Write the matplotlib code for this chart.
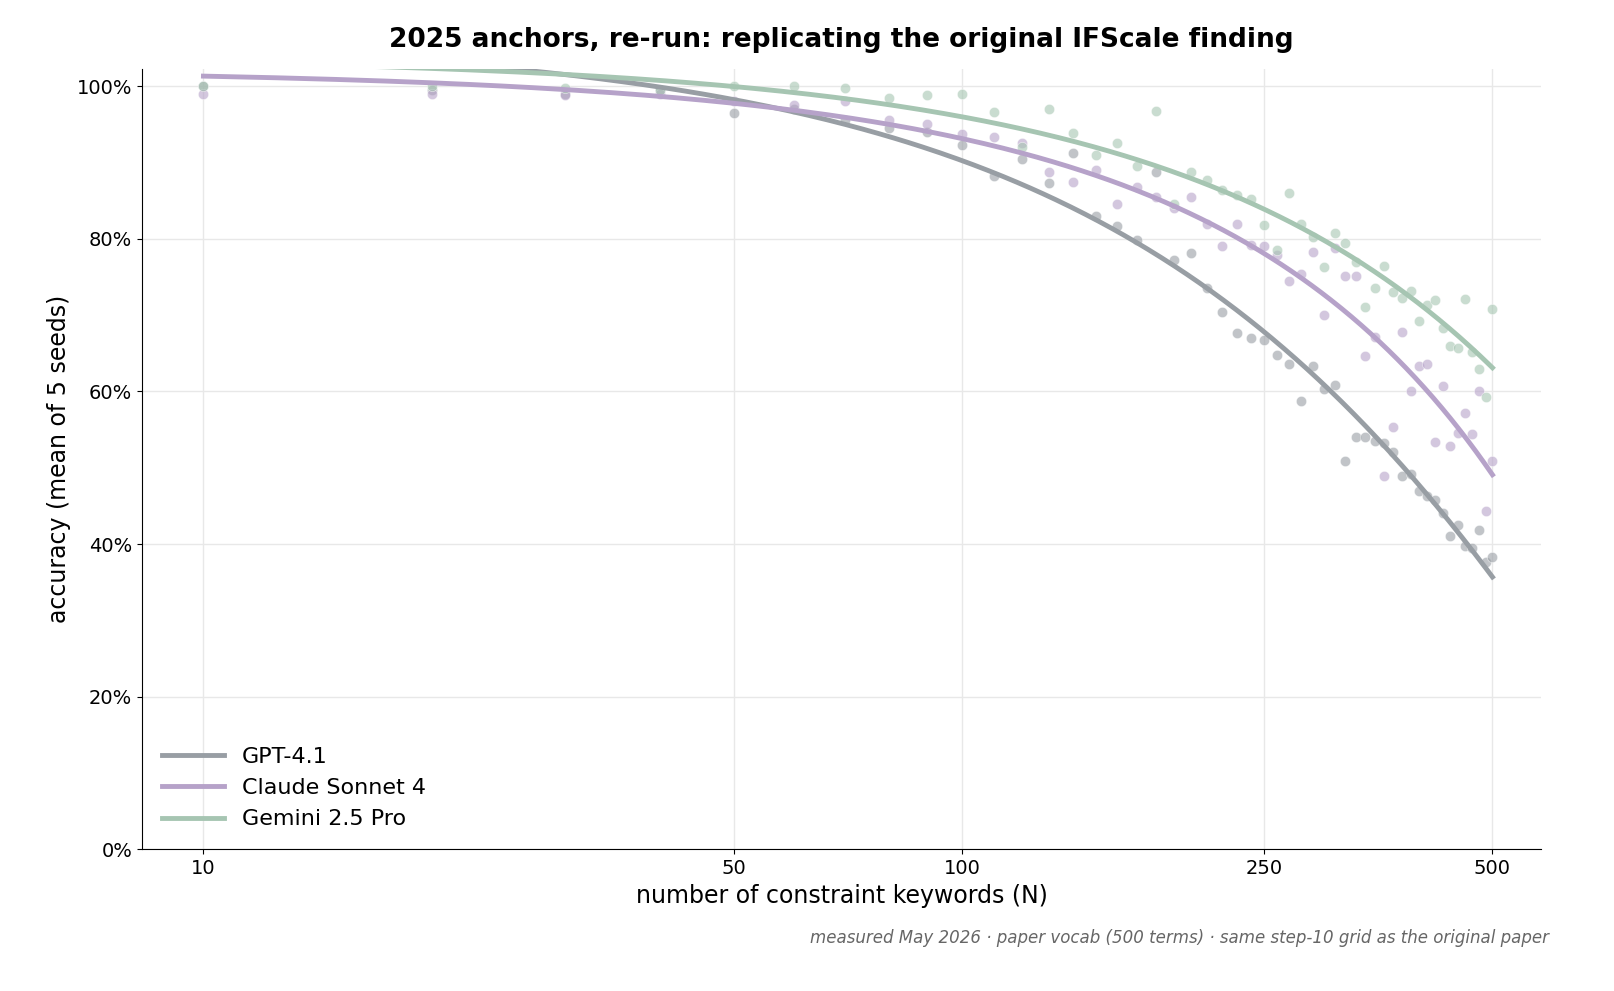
import numpy as np
import matplotlib.pyplot as plt
from matplotlib.ticker import PercentFormatter, FixedLocator, NullLocator

n_keywords = list(range(10, 501, 10))

gpt41 = [100, 99.5, 99, 99.5, 96.5, 97, 95.5, 94.5, 94, 92.3,
         88.2, 90.4, 87.3, 91.3, 83, 81.7, 79.8, 88.8, 77.2, 78.1,
         73.6, 70.4, 67.6, 67, 66.8, 64.8, 63.6, 58.7, 63.3, 60.3,
         60.8, 50.9, 54, 54, 53.5, 53.2, 52, 48.9, 49.2, 46.9,
         46.3, 45.8, 44.1, 41, 42.5, 39.7, 39.5, 41.8, 37.7, 38.3]
sonnet4 = [99, 99, 98.8, 99, 98, 97.5, 98, 95.5, 95, 93.7,
           93.3, 92.6, 88.8, 87.4, 89, 84.6, 86.8, 85.5, 84, 85.5,
           82, 79, 82, 79.2, 79, 77.9, 74.5, 75.4, 78.3, 70,
           78.8, 75.1, 75.1, 64.7, 67.1, 48.9, 55.3, 67.8, 60, 63.3,
           63.6, 53.4, 60.7, 52.9, 54.6, 57.2, 54.4, 60, 44.3, 50.9]
gemini25 = [100, 100, 99.8, 99.5, 100, 100, 99.7, 98.5, 98.8, 99,
            96.6, 92, 97, 93.8, 91, 92.6, 89.6, 96.7, 84.6, 88.8,
            87.7, 86.4, 85.7, 85.2, 81.8, 78.5, 86, 82, 80.2, 76.3,
            80.8, 79.4, 77, 71, 73.6, 76.4, 73, 72.2, 73.2, 69.2,
            71.3, 72, 68.3, 66, 65.7, 72.1, 65.2, 63, 59.3, 70.8]

series = [("GPT-4.1", gpt41, "#989ea4"),
          ("Claude Sonnet 4", sonnet4, "#b6a2c9"),
          ("Gemini 2.5 Pro", gemini25, "#a6c5b2")]

fig, ax = plt.subplots(figsize=(16.14, 9.91), dpi=100)
x = np.array(n_keywords, dtype=float)
xs = np.linspace(10, 500, 400)
for name, vals, color in series:
    y = np.array(vals) / 100
    ax.scatter(x, y, s=55, color=color, alpha=0.6, edgecolors="white", linewidths=0.5, zorder=2)
    # smooth trend: quadratic in N
    coef = np.polyfit(x, y, 2)
    ax.plot(xs, np.polyval(coef, xs), color=color, lw=3.5, label=name, zorder=3)

ax.set_xscale("log")
ax.set_xlim(8.3, 580)
ax.set_ylim(0, 1.022)
ax.xaxis.set_major_locator(FixedLocator([10, 50, 100, 250, 500]))
ax.xaxis.set_minor_locator(NullLocator())
ax.set_xticklabels(["10", "50", "100", "250", "500"])
ax.yaxis.set_major_formatter(PercentFormatter(1.0, decimals=0))
ax.tick_params(labelsize=14)
ax.grid(True, color="#e8e8e8", lw=1)
ax.set_axisbelow(True)
for s in ("top", "right"):
    ax.spines[s].set_visible(False)

ax.set_xlabel("number of constraint keywords (N)", fontsize=17)
ax.set_ylabel("accuracy (mean of 5 seeds)", fontsize=17)
ax.set_title("2025 anchors, re-run: replicating the original IFScale finding",
             fontsize=19, fontweight="bold", pad=16)
ax.legend(loc="lower left", frameon=False, fontsize=16, handlelength=2.8)
fig.text(0.96, 0.048, "measured May 2026 · paper vocab (500 terms) · same step-10 grid as the original paper",
         ha="right", fontsize=12, style="italic", color="#666666")

fig.subplots_adjust(left=0.088, right=0.955, top=0.93, bottom=0.143)
fig.savefig("out.png")
